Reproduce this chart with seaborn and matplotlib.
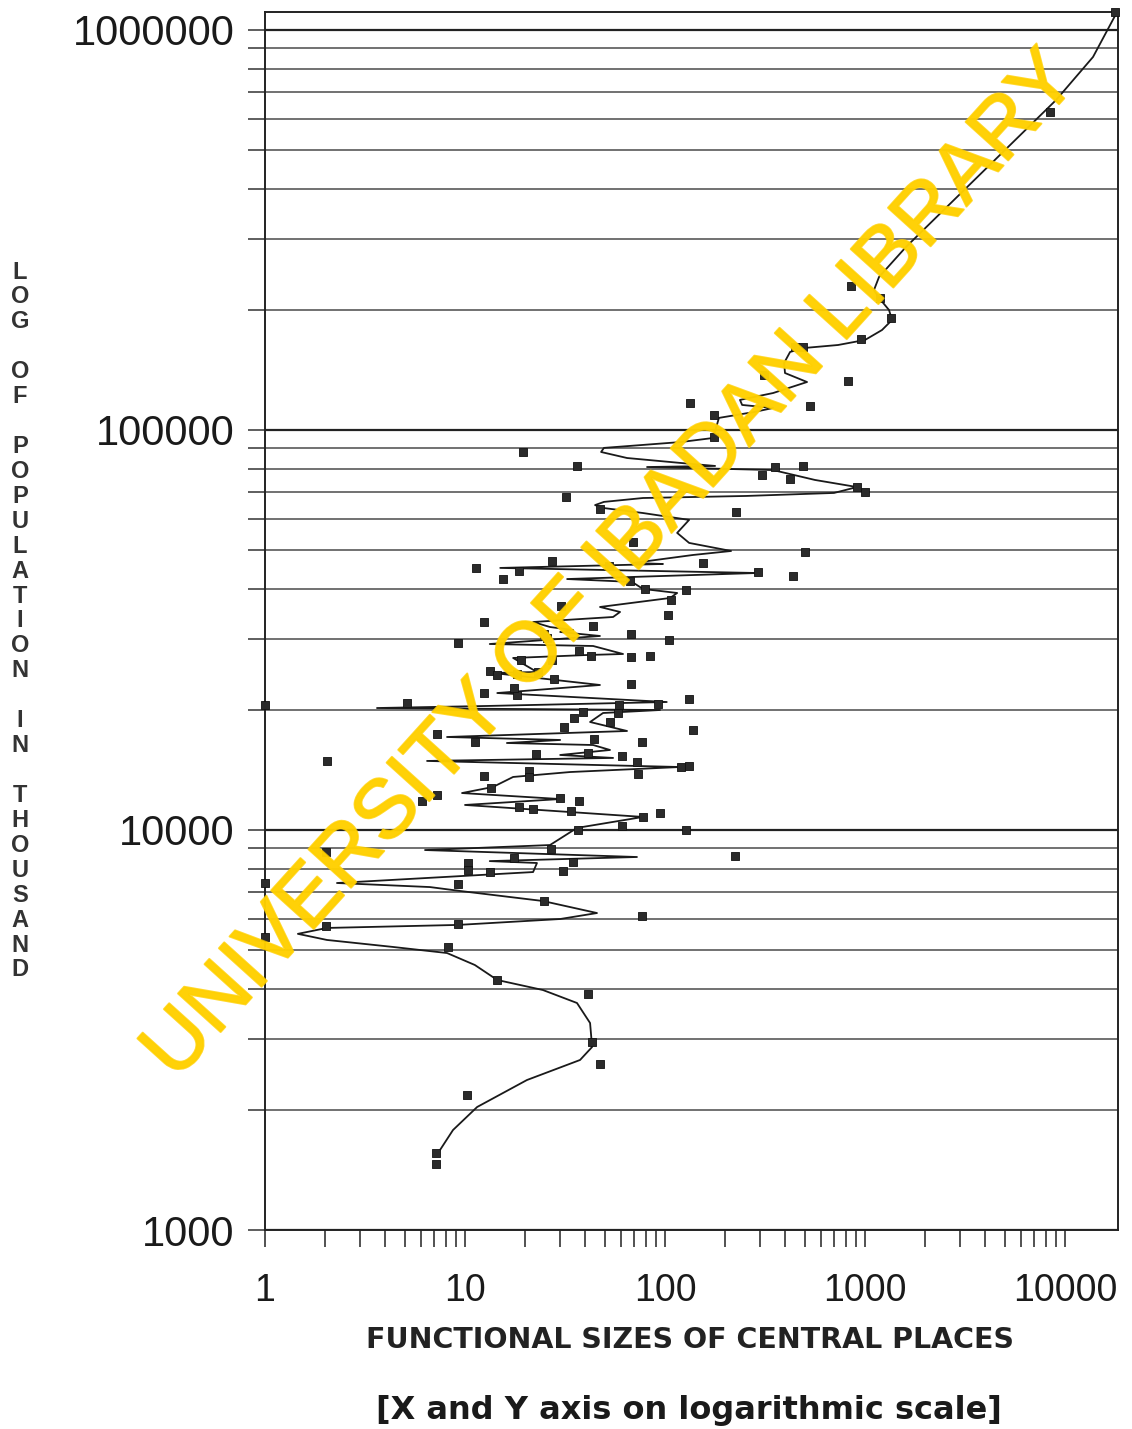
import numpy as np
import pandas as pd
import matplotlib
matplotlib.use("Agg")
import matplotlib.pyplot as plt
import matplotlib.patheffects as pe
import seaborn as sns
from matplotlib.ticker import LogLocator, NullFormatter, FixedLocator

# ---------------- data ----------------
# scatter: functional size (x) vs population in thousand (y)
place_size = [
    17800, 8400, 851, 1190, 1350, 955, 447, 490, 313, 822, 531, 133, 176, 176,
    19.6, 36.3, 354, 306, 488, 422, 912, 1000, 32.1, 47.2, 226, 69.3, 503,
    11.4, 27.1, 18.7, 52.7, 155, 290, 437, 15.5, 67.2, 79.1, 127, 107, 30.3,
    103, 12.5, 43.7,
    67.6, 24.9, 25.6, 104.7, 9.26, 37.3, 42.7, 67.6, 84.1, 27.1, 19.05, 13.3,
    14.5, 18.1, 23.1, 28.0, 67.6, 12.4, 18.1, 17.6, 131.8, 92.6, 5.11, 1.0,
    58.9, 58.0, 38.8, 35.1, 53.1, 31.3, 137.5, 7.22, 11.2, 44.3, 76.5, 22.6,
    41.4, 60.7, 72.2, 2.03, 119.8, 132.3, 20.9, 20.9, 12.4, 73.5, 13.5, 7.22,
    6.12, 29.9, 37.3, 18.7, 21.8, 33.9, 94.4, 77.9, 60.7, 36.9, 126.9, 2.02,
    26.9, 223.9, 10.3, 17.6, 34.8, 10.3, 13.4, 30.8, 1.0, 9.2, 24.9, 77.0,
    2.01, 9.2, 1.0, 8.19, 14.4, 41.1, 43.3, 47.3, 10.2, 7.14, 7.14,
]
population = [
    1110000, 624000, 229000, 214000, 190500, 169000, 161300, 161000, 137300,
    132600, 114800, 116800, 109000, 96100,
    88250, 81470, 80700, 77200, 81470, 75430, 72160, 70000, 68080, 63350,
    62520, 52580, 49640, 45270, 47040, 44470, 45710, 46560, 44230, 43150,
    42420, 42010, 39970, 39810, 37580, 36310, 34470, 33180, 32360,
    30840, 30840, 30130, 29850, 29390, 28060, 27230, 27020, 27290, 26610,
    26610, 24970, 24400, 24550, 24890, 23850, 23170, 21960, 21750, 22590,
    21220, 20650, 20800, 20480, 20480, 19570, 19770, 19020, 18650, 18130,
    17780, 17380, 16630, 16890, 16560, 15490, 15610, 15310, 14820, 14900,
    14370, 14450, 14070, 13550, 13650, 13780, 12760, 12230, 11820, 12000,
    11820, 11390, 11280, 11180, 11050, 10760, 10230, 10000, 10000, 8830,
    8950, 8630, 8255, 8493, 8333, 7940, 7870, 7900, 7380, 7330, 6645, 6110,
    5765, 5810, 5395, 5093, 4217, 3890, 2957, 2600, 2175, 1556, 1459,
]

# fitted curve as drawn in the picture (vertices, top to bottom)
curve_size = [
    18200, 13800, 9016, 5190, 2884, 1603, 1175, 1109, 1175, 1318, 1365, 1216,
    1000, 733, 495, 422, 394, 398, 513, 347, 237, 243, 347, 279, 186, 174,
    120, 49.5, 47.9, 64.6, 120, 178, 81.3, 347, 562, 912, 700, 254, 77.6,
    49.5, 44.7, 49.5, 77.6, 132, 115, 132, 214, 138, 69.2, 97.7, 15.0, 288,
    32.4, 68.4, 77.6, 115, 106, 47.3, 59.6, 55.0, 21.9, 26.6, 34.7, 29.9,
    47.3, 13.3, 43.7, 61.7, 40.7, 17.4, 22.9, 13.8, 47.3, 14.5, 102, 12.9,
    3.63, 94.4, 49.0, 42.2, 64.6, 8.13, 29.9, 16.2, 43.7, 53.1, 29.9, 55.0,
    6.46, 119, 33.5, 17.4, 13.8, 9.66, 29.9, 10.0, 77.6, 36.3, 26.6, 6.31,
    72.4, 13.3, 22.9, 21.9, 2.29, 6.68, 9.44, 24.5, 45.7, 29.9, 9.23, 2.04,
    1.46, 2.04, 4.37, 8.13, 11.2, 14.5, 24.5, 36.3, 42.2, 42.7, 43.2, 37.6,
    20.4, 11.5, 8.71, 7.50,
]
curve_pop = [
    1109000, 856000, 668000, 510000, 382400, 286800, 241300, 223900, 213800,
    199500, 188400, 177800, 167900, 163100, 160300, 156700, 147100, 138800,
    131800, 123700, 118900, 115500, 113500, 110900, 107200, 95500, 93300,
    90200, 88100, 85100, 82700, 81300, 80800, 79400, 75000, 72000, 69600,
    68400, 67600, 66100, 64900, 63800, 62000, 59600, 55300, 52200, 49830,
    48700, 46500, 46240, 45200, 43900, 42400, 41700, 40050, 39130, 38020,
    36100, 35080, 34080, 33110, 32170, 31620, 31260, 30550, 29170, 28840,
    27540, 27380, 26920, 24830, 24690, 23040, 22000, 20890, 20420, 20180,
    19950, 19610, 18620, 17680, 17080, 16790, 16500, 16310, 15850, 15400,
    15140, 14880, 14370, 13960, 13570, 12810, 12370, 11950, 11550, 10780,
    10120, 9170, 8910, 8560, 8360, 8270, 7850, 7370, 7200, 7040, 6645, 6200,
    5990, 5790, 5690, 5500, 5310, 5100, 4925, 4597, 4217, 3981, 3694, 3292,
    3073, 2868, 2661, 2371, 2030, 1778, 1585,
]

x_ticks = [1, 10, 100, 1000, 10000]
x_tick_labels = ["1", "10", "100", "1000", "10000"]
y_ticks = [1000, 10000, 100000, 1000000]
y_tick_labels = ["1000", "10000", "100000", "1000000"]

x_label = "FUNCTIONAL SIZES OF CENTRAL PLACES"
y_label = "LOG OF POPULATION IN THOUSAND"
note = "[X and Y axis on logarithmic scale]"
watermark = "UNIVERSITY OF IBADAN LIBRARY"

points = pd.DataFrame({"size": place_size, "pop": population})
curve = pd.DataFrame({"size": curve_size, "pop": curve_pop})

# ---------------- style ----------------
sns.set_style("white")
plt.rcParams["font.family"] = ["Liberation Sans", "DejaVu Sans"]

W, H = 1132, 1429
fig = plt.figure(figsize=(W / 100, H / 100), dpi=100)
fig.patch.set_facecolor("white")
ax = fig.add_axes([265 / W, 1 - 1230 / H, (1118 - 265) / W, (1230 - 12) / H])
ax.set_xscale("log")
ax.set_yscale("log")

sns.lineplot(data=curve, x="size", y="pop", sort=False, estimator=None,
             color="#1a1a1a", lw=1.3, ax=ax, zorder=3)
sns.scatterplot(data=points, x="size", y="pop", marker="s", s=32,
                color="#2b2b2b", edgecolor="#111111", linewidth=0.6,
                ax=ax, zorder=4, clip_on=False)

ax.set_xlim(1, 18400)
ax.set_ylim(1000, 1.109e6)

# ticks
ax.xaxis.set_major_locator(FixedLocator(x_ticks))
ax.set_xticklabels(x_tick_labels)
ax.xaxis.set_minor_locator(LogLocator(base=10, subs=range(2, 10), numticks=20))
ax.xaxis.set_minor_formatter(NullFormatter())
ax.yaxis.set_major_locator(FixedLocator(y_ticks))
ax.set_yticklabels(y_tick_labels)
ax.yaxis.set_minor_locator(LogLocator(base=10, subs=range(2, 10), numticks=20))
ax.yaxis.set_minor_formatter(NullFormatter())

ax.tick_params(axis="x", which="both", bottom=True, top=False, direction="out",
               length=12, width=1.1, color="#222222")
ax.tick_params(axis="x", which="major", pad=19, labelsize=27,
               labelcolor="#1a1a1a")
ax.tick_params(axis="y", which="both", left=True, right=False, direction="out",
               length=12, width=1.1, color="#333333")
ax.tick_params(axis="y", which="major", pad=10, labelsize=30,
               labelcolor="#1a1a1a")

# horizontal grid lines
ax.grid(False)
ax.yaxis.grid(True, which="major", color="#222222", lw=1.6)
ax.yaxis.grid(True, which="minor", color="#4a4a4a", lw=1.1)
ax.set_axisbelow(True)

for side in ["left", "bottom", "right", "top"]:
    ax.spines[side].set_visible(True)
    ax.spines[side].set_color("#222222")
    ax.spines[side].set_linewidth(1.4)

ax.set_xlabel("")
ax.set_ylabel("")

# axis titles
fig.text(690 / W, 1 - 1340 / H, x_label, ha="center", va="center",
         fontsize=20.5, fontweight="bold", family=["DejaVu Sans"],
         color="#222222")
fig.text(689 / W, 1 - 1410 / H, note, ha="center", va="center",
         fontsize=23, fontweight="bold", family=["DejaVu Sans"],
         color="#1a1a1a")
fig.text(20 / W, 1 - 621 / H, "\n".join(y_label), ha="center", va="center",
         fontsize=17, fontweight="bold", linespacing=1.107, color="#333333")

# watermark
fig.text(612 / W, 1 - 566 / H, watermark, ha="center", va="center",
         rotation=47.9, rotation_mode="anchor", fontsize=60,
         color="#FFD000", alpha=0.82, zorder=10,
         path_effects=[pe.withStroke(linewidth=1.5, foreground="#FFD000")])

fig.savefig("out.png", dpi=100, facecolor="white")
